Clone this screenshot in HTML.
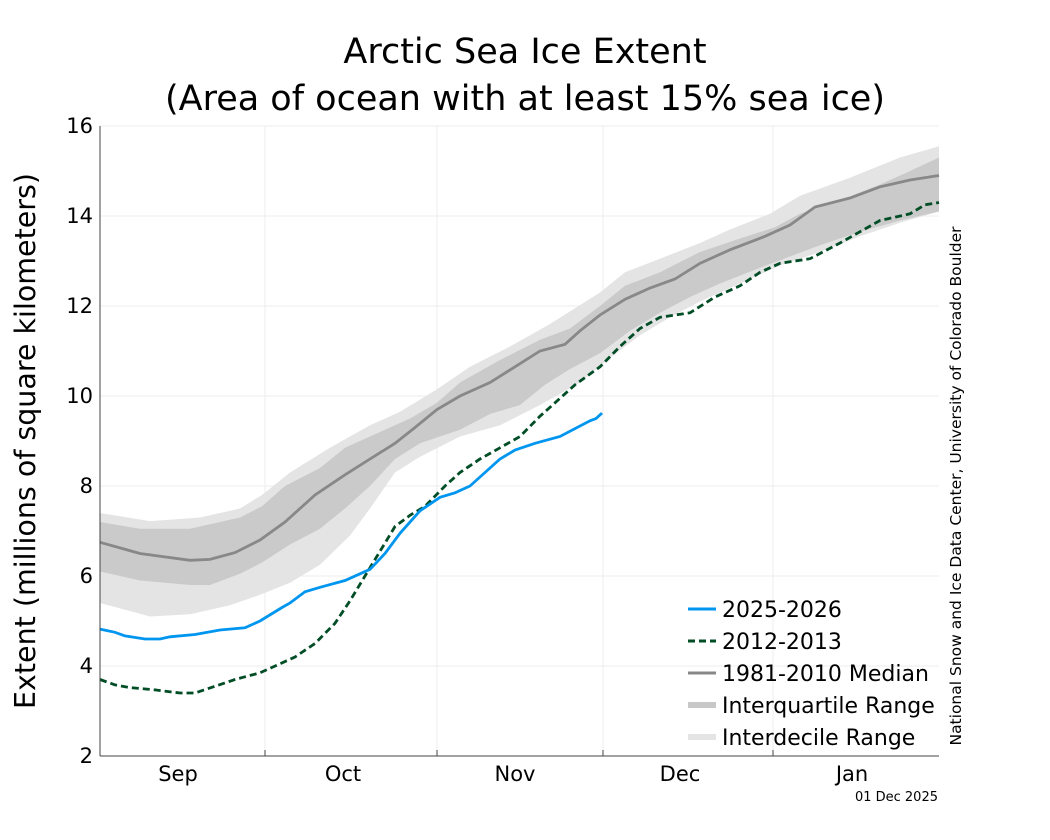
<!DOCTYPE html>
<html><head><meta charset="utf-8"><style>
html,body{margin:0;padding:0;background:#fff;}
svg{display:block;font-family:"DejaVu Sans","Liberation Sans",sans-serif;}
</style></head><body>
<svg id="s" width="1050" height="840" xmlns="http://www.w3.org/2000/svg">
<rect width="1050" height="840" fill="#fff"/>
<text x="525" y="63" font-size="35" text-anchor="middle" fill="#000">Arctic Sea Ice Extent</text>
<text x="525" y="110" font-size="35" text-anchor="middle" fill="#000">(Area of ocean with at least 15% sea ice)</text>
<g id="grid" stroke="#ececec" stroke-width="1"></g>
<g id="data"></g>
<line x1="100" y1="126" x2="100" y2="756" stroke="#444" stroke-width="1"/>
<line x1="100" y1="756" x2="939" y2="756" stroke="#444" stroke-width="1"/>
<g id="ticks" font-size="21" fill="#000"></g>
<text x="178" y="781" font-size="21" text-anchor="middle">Sep</text>
<text x="343" y="781" font-size="21" text-anchor="middle">Oct</text>
<text x="515" y="781" font-size="21" text-anchor="middle">Nov</text>
<text x="680" y="781" font-size="21" text-anchor="middle">Dec</text>
<text x="852" y="781" font-size="21" text-anchor="middle">Jan</text>
<text x="938" y="801" font-size="13" text-anchor="end">01 Dec 2025</text>
<text transform="translate(35,441) rotate(-90)" font-size="28.5" text-anchor="middle">Extent (millions of square kilometers)</text>
<text transform="translate(961,486) rotate(-90)" font-size="15.5" text-anchor="middle">National Snow and Ice Data Center, University of Colorado Boulder</text>
<g font-size="22">
<line x1="688" y1="609" x2="716" y2="609" stroke="#0096f0" stroke-width="3"/>
<text x="722" y="617">2025-2026</text>
<line x1="688" y1="641" x2="716" y2="641" stroke="#004d26" stroke-width="3" stroke-dasharray="7,4"/>
<text x="722" y="649">2012-2013</text>
<line x1="688" y1="673" x2="716" y2="673" stroke="#888" stroke-width="3"/>
<text x="722" y="681">1981-2010 Median</text>
<line x1="688" y1="705" x2="716" y2="705" stroke="#c8c8c8" stroke-width="6"/>
<text x="722" y="713">Interquartile Range</text>
<line x1="688" y1="737" x2="716" y2="737" stroke="#e4e4e4" stroke-width="6"/>
<text x="722" y="745">Interdecile Range</text>
</g>
</svg>
<script>
const Y=v=>756-(v-2)*45;
const NS="http://www.w3.org/2000/svg";
function el(p,t,a){const e=document.createElementNS(NS,t);for(const k in a)e.setAttribute(k,a[k]);p.appendChild(e);return e;}
const g=document.getElementById('grid'),d=document.getElementById('data'),tk=document.getElementById('ticks');
for(let v=4;v<=16;v+=2)el(g,'line',{x1:100,x2:939,y1:Y(v),y2:Y(v)});
for(const x of [265,437,603,773]){el(g,'line',{x1:x,x2:x,y1:126,y2:756});el(tk,'line',{x1:x,x2:x,y1:750,y2:756,stroke:'#444'});}
for(let v=2;v<=16;v+=2){const t=el(tk,'text',{x:93,y:Y(v)+7,'text-anchor':'end'});t.textContent=v;}
const P=a=>a.map(p=>p[0]+','+Y(p[1]).toFixed(1));
function band(up,lo,fill){el(d,'polygon',{points:P(up).concat(P(lo.slice().reverse())).join(' '),fill:fill});}
const dU=[[100,7.4],[150,7.22],[200,7.3],[240,7.5],[262,7.8],[290,8.3],[330,8.85],[370,9.35],[400,9.65],[437,10.15],[470,10.65],[510,11.1],[550,11.6],[600,12.3],[625,12.75],[660,13.05],[700,13.4],[730,13.7],[770,14.05],[800,14.45],[850,14.85],[900,15.3],[939,15.55]];
const dL=[[100,5.4],[150,5.1],[190,5.15],[230,5.35],[262,5.6],[290,5.85],[320,6.25],[350,6.9],[370,7.5],[395,8.3],[420,8.65],[460,9.1],[500,9.35],[540,9.8],[580,10.3],[610,10.85],[640,11.35],[670,11.75],[700,12.1],[740,12.5],[780,12.9],[820,13.2],[860,13.55],[900,13.85],[939,14.1]];
const qU=[[100,7.2],[140,7.05],[190,7.05],[240,7.3],[262,7.55],[285,8.0],[320,8.4],[345,8.85],[380,9.2],[410,9.5],[437,9.85],[460,10.3],[500,10.8],[540,11.25],[570,11.5],[600,12.0],[625,12.45],[660,12.75],[700,13.2],[740,13.5],[775,13.75],[800,14.05],[840,14.35],[880,14.7],[910,15.0],[939,15.3]];
const qL=[[100,6.1],[140,5.9],[190,5.8],[210,5.8],[240,6.05],[262,6.3],[290,6.7],[320,7.05],[345,7.5],[370,8.0],[395,8.6],[420,8.95],[460,9.25],[490,9.6],[520,9.8],[545,10.25],[570,10.6],[600,10.95],[630,11.45],[660,11.85],[690,12.2],[720,12.5],[760,12.85],[790,13.1],[820,13.35],[860,13.65],[900,13.9],[939,14.1]];
band(dU,dL,'#e4e4e4');band(qU,qL,'#cacaca');
const med=[[100,6.75],[140,6.5],[190,6.35],[210,6.37],[235,6.52],[260,6.8],[285,7.2],[315,7.8],[345,8.25],[370,8.6],[395,8.95],[415,9.3],[437,9.7],[460,10.0],[490,10.3],[515,10.65],[540,11.0],[565,11.15],[580,11.45],[600,11.8],[625,12.15],[650,12.4],[675,12.6],[700,12.95],[730,13.25],[765,13.55],[790,13.8],[815,14.2],[850,14.4],[880,14.65],[910,14.8],[939,14.9]];
el(d,'polyline',{points:P(med).join(' '),fill:'none',stroke:'#888','stroke-width':2.8});
const old=[[100,3.7],[115,3.58],[130,3.52],[155,3.47],[180,3.4],[195,3.4],[215,3.55],[235,3.7],[260,3.85],[280,4.05],[295,4.2],[315,4.5],[335,4.95],[350,5.45],[365,6.0],[380,6.55],[395,7.1],[410,7.35],[425,7.55],[445,8.0],[460,8.3],[480,8.6],[500,8.85],[520,9.1],[540,9.55],[555,9.85],[575,10.25],[600,10.65],[620,11.1],[640,11.5],[660,11.75],[690,11.85],[715,12.2],[740,12.45],[760,12.75],[780,12.95],[810,13.05],[840,13.4],[880,13.9],[910,14.05],[925,14.25],[939,14.3]];
el(d,'polyline',{points:P(old).join(' '),fill:'none',stroke:'#004d26','stroke-width':2.8,'stroke-dasharray':'7,4'});
const cur=[[100,4.82],[115,4.75],[125,4.67],[145,4.6],[160,4.6],[170,4.65],[195,4.7],[220,4.8],[245,4.85],[260,5.0],[282,5.3],[290,5.4],[305,5.65],[320,5.75],[345,5.9],[360,6.05],[370,6.15],[385,6.5],[400,6.95],[420,7.45],[440,7.75],[455,7.85],[470,8.0],[485,8.3],[500,8.6],[515,8.8],[535,8.95],[560,9.1],[590,9.45],[596,9.5],[602,9.62]];
el(d,'polyline',{points:P(cur).join(' '),fill:'none',stroke:'#0096f0','stroke-width':2.8});
</script>
</body></html>
